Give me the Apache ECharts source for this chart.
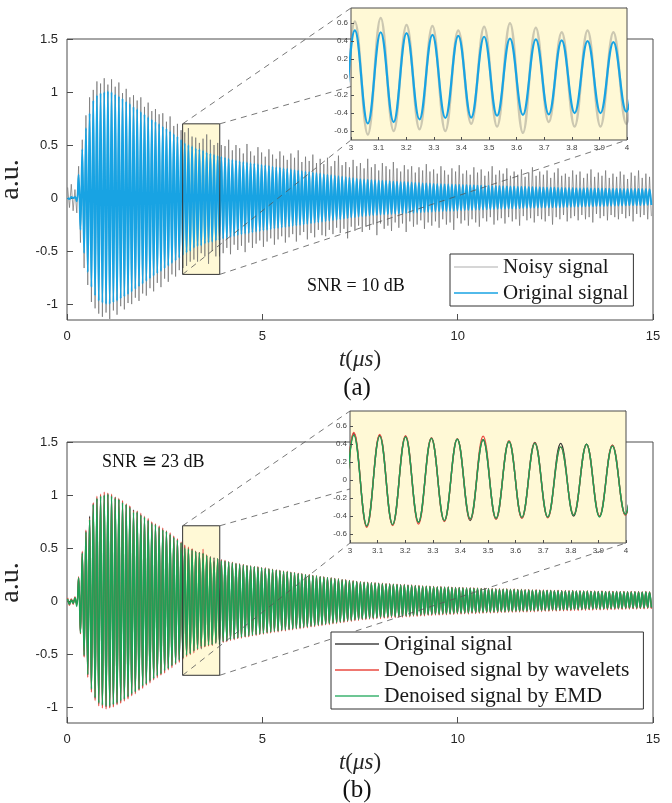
<!DOCTYPE html>
<html><head><meta charset="utf-8">
<script src="https://cdn.jsdelivr.net/npm/echarts@6/dist/echarts.min.js"></script>
<style>html,body{margin:0;padding:0;background:#fff}#c{width:672px;height:803px}</style>
</head><body><div id="c"></div>
<script>
// ---- sampling grid of the read-off extrema (μs) ----
const SAMPLE_START = 0.0162;   // time of first positive extremum
const HALF_PERIOD = 0.04684;   // time between successive extrema

// ---- original signal: positive peaks / negative troughs ----
const ORIG_PEAKS = [
0.00,0.01,0.01,0.22,0.46,0.66,0.80,0.92,0.97,0.99,
1.00,1.01,1.00,0.98,0.96,0.94,0.91,0.89,0.86,0.84,
0.815,0.79,0.765,0.74,0.72,0.70,0.675,0.655,0.63,0.605,
0.58,0.55,0.52,0.50,0.49,0.47,0.46,0.45,0.43,0.42,
0.41,0.40,0.39,0.38,0.37,0.362,0.355,0.348,0.341,0.335,
0.33,0.324,0.32,0.314,0.31,0.303,0.297,0.292,0.286,0.281,
0.276,0.271,0.266,0.26,0.256,0.25,0.246,0.241,0.236,0.231,
0.226,0.221,0.216,0.211,0.206,0.201,0.197,0.192,0.188,0.183,
0.179,0.176,0.173,0.171,0.168,0.166,0.164,0.161,0.159,0.157,
0.155,0.153,0.151,0.149,0.147,0.145,0.143,0.141,0.139,0.138,
0.136,0.134,0.133,0.131,0.13,0.128,0.127,0.126,0.124,0.123,
0.122,0.121,0.12,0.118,0.117,0.116,0.115,0.114,0.113,0.112,
0.111,0.11,0.109,0.108,0.107,0.106,0.105,0.104,0.103,0.102,
0.101,0.1,0.099,0.099,0.098,0.097,0.096,0.095,0.095,0.094,
0.093,0.093,0.092,0.091,0.091,0.09,0.09,0.089,0.089,0.088,
0.088,0.087,0.087,0.086,0.086,0.086,0.085,0.085,0.085,0.084];
const ORIG_TROUGHS = [
-0.01,0.00,-0.03,-0.30,-0.52,-0.70,-0.84,-0.92,-0.97,-0.99,
-1.00,-1.00,-0.985,-0.97,-0.95,-0.93,-0.91,-0.885,-0.86,-0.835,
-0.81,-0.785,-0.76,-0.735,-0.71,-0.69,-0.665,-0.64,-0.615,-0.59,
-0.565,-0.54,-0.515,-0.50,-0.47,-0.455,-0.45,-0.43,-0.42,-0.415,
-0.40,-0.40,-0.385,-0.376,-0.367,-0.358,-0.35,-0.343,-0.336,-0.33,
-0.324,-0.318,-0.312,-0.306,-0.30,-0.294,-0.289,-0.284,-0.279,-0.274,
-0.269,-0.264,-0.259,-0.254,-0.249,-0.244,-0.239,-0.234,-0.229,-0.224,
-0.219,-0.214,-0.209,-0.204,-0.199,-0.194,-0.189,-0.184,-0.179,-0.175,
-0.171,-0.168,-0.165,-0.162,-0.16,-0.157,-0.155,-0.152,-0.15,-0.148,
-0.146,-0.144,-0.142,-0.14,-0.138,-0.136,-0.134,-0.132,-0.13,-0.129,
-0.127,-0.125,-0.124,-0.122,-0.121,-0.119,-0.118,-0.116,-0.115,-0.114,
-0.112,-0.111,-0.11,-0.108,-0.107,-0.106,-0.105,-0.103,-0.102,-0.101,
-0.1,-0.099,-0.098,-0.097,-0.096,-0.095,-0.094,-0.093,-0.092,-0.091,
-0.09,-0.089,-0.088,-0.087,-0.086,-0.085,-0.084,-0.083,-0.082,-0.081,
-0.08,-0.079,-0.078,-0.077,-0.076,-0.076,-0.075,-0.074,-0.073,-0.072,
-0.072,-0.071,-0.07,-0.069,-0.068,-0.068,-0.067,-0.066,-0.065,-0.065];

// ---- noisy signal (SNR = 10 dB) ----
const NOISY_PEAKS = [
0.10,0.13,0.08,0.30,0.55,0.78,0.95,1.02,1.10,1.08,
1.13,1.07,1.12,1.05,1.09,0.99,1.03,0.95,0.97,0.92,
0.95,0.86,0.90,0.82,0.84,0.79,0.80,0.72,0.77,0.68,
0.70,0.64,0.62,0.66,0.58,0.57,0.52,0.56,0.60,0.55,
0.50,0.52,0.50,0.49,0.55,0.45,0.50,0.47,0.42,0.51,
0.44,0.40,0.48,0.43,0.39,0.46,0.41,0.37,0.44,0.40,
0.36,0.42,0.38,0.45,0.34,0.39,0.35,0.41,0.33,0.37,
0.32,0.38,0.30,0.35,0.40,0.31,0.34,0.29,0.36,0.30,
0.33,0.28,0.37,0.29,0.32,0.26,0.33,0.30,0.27,0.34,
0.28,0.25,0.31,0.27,0.30,0.24,0.29,0.26,0.32,0.25,
0.27,0.23,0.30,0.26,0.22,0.28,0.25,0.31,0.23,0.26,
0.22,0.29,0.24,0.27,0.21,0.25,0.30,0.22,0.26,0.23,
0.28,0.21,0.25,0.22,0.27,0.20,0.24,0.29,0.21,0.25,
0.22,0.26,0.19,0.24,0.28,0.21,0.23,0.20,0.26,0.22,
0.25,0.19,0.23,0.27,0.20,0.24,0.21,0.26,0.19,0.23,
0.20,0.25,0.22,0.18,0.24,0.21,0.26,0.19,0.23,0.20];
const NOISY_TROUGHS = [
-0.09,-0.12,-0.14,-0.42,-0.66,-0.82,-0.98,-1.04,-1.09,-1.12,
-1.08,-1.14,-1.06,-1.10,-1.02,-1.05,-0.99,-1.00,-0.94,-0.97,
-0.90,-0.92,-0.85,-0.88,-0.80,-0.84,-0.76,-0.79,-0.72,-0.74,
-0.68,-0.66,-0.64,-0.60,-0.58,-0.60,-0.52,-0.55,-0.62,-0.50,
-0.55,-0.55,-0.52,-0.47,-0.53,-0.44,-0.49,-0.45,-0.51,-0.42,
-0.47,-0.43,-0.40,-0.46,-0.41,-0.38,-0.44,-0.39,-0.36,-0.42,
-0.37,-0.34,-0.41,-0.35,-0.32,-0.39,-0.33,-0.37,-0.30,-0.35,
-0.36,-0.30,-0.34,-0.28,-0.33,-0.29,-0.38,-0.27,-0.31,-0.26,
-0.32,-0.27,-0.30,-0.25,-0.35,-0.24,-0.29,-0.26,-0.31,-0.23,
-0.28,-0.24,-0.32,-0.22,-0.27,-0.25,-0.21,-0.29,-0.23,-0.26,
-0.22,-0.28,-0.20,-0.25,-0.23,-0.30,-0.19,-0.24,-0.21,-0.26,
-0.20,-0.23,-0.27,-0.19,-0.22,-0.18,-0.25,-0.21,-0.19,-0.24,
-0.18,-0.22,-0.20,-0.26,-0.17,-0.21,-0.19,-0.23,-0.17,-0.20,
-0.22,-0.17,-0.25,-0.18,-0.20,-0.16,-0.22,-0.19,-0.17,-0.21,
-0.16,-0.20,-0.18,-0.23,-0.15,-0.19,-0.17,-0.21,-0.16,-0.18,
-0.20,-0.15,-0.19,-0.17,-0.22,-0.15,-0.18,-0.16,-0.20,-0.17];

// ---- denoised by wavelets ----
const WAV_PEAKS = [
0.03,0.02,0.04,0.23,0.47,0.67,0.78,0.93,0.99,1.01,
1.03,1.02,1.01,0.98,0.97,0.95,0.92,0.90,0.85,0.85,
0.83,0.80,0.78,0.75,0.73,0.71,0.69,0.665,0.645,0.615,
0.59,0.56,0.53,0.51,0.495,0.47,0.46,0.49,0.44,0.415,
0.37,0.40,0.39,0.385,0.372,0.368,0.357,0.352,0.346,0.337,
0.335,0.326,0.325,0.316,0.315,0.305,0.302,0.294,0.291,0.283,
0.281,0.273,0.271,0.262,0.261,0.252,0.251,0.243,0.241,0.233,
0.231,0.223,0.221,0.213,0.211,0.203,0.202,0.194,0.193,0.185,
0.184,0.178,0.178,0.173,0.173,0.168,0.169,0.163,0.164,0.159,
0.16,0.155,0.156,0.151,0.152,0.147,0.148,0.143,0.144,0.14,
0.141,0.136,0.138,0.133,0.135,0.13,0.132,0.128,0.129,0.125,
0.127,0.123,0.125,0.12,0.122,0.118,0.12,0.116,0.118,0.114,
0.116,0.112,0.114,0.11,0.112,0.108,0.11,0.106,0.108,0.104,
0.106,0.102,0.104,0.101,0.103,0.099,0.101,0.097,0.1,0.096,
0.098,0.095,0.097,0.093,0.096,0.092,0.095,0.091,0.094,0.09,
0.093,0.089,0.092,0.088,0.091,0.088,0.09,0.087,0.09,0.086];
const WAV_TROUGHS = [
-0.04,-0.03,-0.03,-0.31,-0.53,-0.72,-0.86,-0.94,-0.99,-1.01,
-1.02,-1.01,-1.0,-0.98,-0.965,-0.945,-0.925,-0.895,-0.875,-0.845,
-0.825,-0.795,-0.775,-0.745,-0.725,-0.70,-0.68,-0.65,-0.63,-0.60,
-0.58,-0.55,-0.525,-0.505,-0.49,-0.46,-0.44,-0.435,-0.425,-0.42,
-0.385,-0.40,-0.39,-0.384,-0.372,-0.366,-0.355,-0.351,-0.341,-0.338,
-0.329,-0.326,-0.317,-0.314,-0.305,-0.302,-0.294,-0.292,-0.284,-0.282,
-0.274,-0.272,-0.264,-0.262,-0.254,-0.252,-0.244,-0.242,-0.234,-0.232,
-0.224,-0.222,-0.214,-0.212,-0.204,-0.202,-0.194,-0.192,-0.184,-0.183,
-0.176,-0.176,-0.17,-0.17,-0.165,-0.165,-0.16,-0.16,-0.155,-0.156,
-0.151,-0.152,-0.147,-0.148,-0.143,-0.144,-0.139,-0.14,-0.135,-0.137,
-0.132,-0.133,-0.129,-0.13,-0.126,-0.127,-0.123,-0.124,-0.12,-0.122,
-0.117,-0.119,-0.115,-0.116,-0.112,-0.114,-0.11,-0.111,-0.107,-0.109,
-0.105,-0.107,-0.103,-0.105,-0.101,-0.103,-0.099,-0.101,-0.097,-0.099,
-0.095,-0.097,-0.093,-0.095,-0.091,-0.093,-0.089,-0.091,-0.087,-0.089,
-0.085,-0.087,-0.083,-0.085,-0.081,-0.084,-0.08,-0.082,-0.078,-0.08,
-0.077,-0.079,-0.075,-0.077,-0.073,-0.076,-0.072,-0.074,-0.07,-0.073];

// ---- denoised by EMD ----
const EMD_PEAKS = [
0.02,0.01,0.03,0.22,0.45,0.65,0.77,0.91,0.97,0.99,
1.00,1.01,0.99,0.97,0.96,0.93,0.91,0.88,0.84,0.84,
0.81,0.79,0.76,0.73,0.72,0.69,0.67,0.655,0.625,0.60,
0.575,0.55,0.50,0.49,0.48,0.465,0.455,0.45,0.43,0.41,
0.37,0.40,0.38,0.375,0.368,0.36,0.352,0.346,0.34,0.333,
0.328,0.322,0.318,0.312,0.307,0.301,0.296,0.29,0.285,0.279,
0.275,0.269,0.265,0.258,0.255,0.248,0.245,0.239,0.235,0.229,
0.225,0.219,0.215,0.209,0.205,0.199,0.196,0.19,0.187,0.181,
0.178,0.174,0.172,0.169,0.167,0.164,0.163,0.159,0.158,0.155,
0.154,0.151,0.15,0.147,0.146,0.143,0.142,0.139,0.138,0.136,
0.135,0.132,0.132,0.129,0.129,0.126,0.126,0.124,0.123,0.121,
0.121,0.119,0.119,0.116,0.116,0.114,0.114,0.112,0.112,0.11,
0.11,0.108,0.108,0.106,0.106,0.104,0.104,0.102,0.102,0.1,
0.1,0.098,0.098,0.097,0.097,0.095,0.095,0.093,0.094,0.092,
0.092,0.091,0.091,0.089,0.09,0.088,0.089,0.087,0.088,0.086,
0.087,0.085,0.086,0.084,0.085,0.084,0.084,0.083,0.084,0.082];
const EMD_TROUGHS = [
-0.03,-0.02,-0.05,-0.30,-0.51,-0.69,-0.83,-0.91,-0.96,-0.98,
-0.99,-0.99,-0.975,-0.96,-0.94,-0.925,-0.90,-0.875,-0.855,-0.83,
-0.80,-0.78,-0.75,-0.73,-0.70,-0.685,-0.655,-0.635,-0.605,-0.585,
-0.555,-0.535,-0.51,-0.495,-0.47,-0.45,-0.43,-0.425,-0.415,-0.41,
-0.39,-0.41,-0.38,-0.371,-0.362,-0.354,-0.345,-0.339,-0.331,-0.326,
-0.319,-0.314,-0.307,-0.302,-0.295,-0.29,-0.284,-0.28,-0.274,-0.27,
-0.264,-0.26,-0.254,-0.25,-0.244,-0.24,-0.234,-0.23,-0.224,-0.22,
-0.214,-0.21,-0.204,-0.2,-0.194,-0.19,-0.184,-0.18,-0.174,-0.171,
-0.166,-0.164,-0.16,-0.158,-0.155,-0.153,-0.15,-0.148,-0.145,-0.144,
-0.141,-0.14,-0.137,-0.136,-0.133,-0.132,-0.129,-0.128,-0.125,-0.125,
-0.122,-0.121,-0.119,-0.118,-0.116,-0.115,-0.113,-0.112,-0.11,-0.11,
-0.107,-0.107,-0.105,-0.104,-0.102,-0.102,-0.1,-0.099,-0.097,-0.097,
-0.095,-0.095,-0.093,-0.093,-0.091,-0.091,-0.089,-0.089,-0.087,-0.087,
-0.085,-0.085,-0.083,-0.083,-0.081,-0.081,-0.079,-0.079,-0.077,-0.077,
-0.075,-0.075,-0.073,-0.073,-0.071,-0.072,-0.07,-0.07,-0.068,-0.068,
-0.067,-0.067,-0.065,-0.065,-0.063,-0.064,-0.062,-0.062,-0.06,-0.061];

// ---- axes / zoom boxes ----
const MAIN_X_RANGE = [0, 15];
const MAIN_Y_RANGE = [-1.15, 1.5];
const MAIN_Y_TICKS = [-1, -0.5, 0, 0.5, 1, 1.5];
const INSET_X_RANGE = [3, 4];
const INSET_Y_RANGE = [-0.7, 0.77];
const INSET_X_TICKS = [3, 3.1, 3.2, 3.3, 3.4, 3.5, 3.6, 3.7, 3.8, 3.9, 4];
const INSET_Y_TICKS = [-0.6, -0.4, -0.2, 0, 0.2, 0.4, 0.6];
const BOX_A = [2.96, 3.91, -0.72, 0.70];   // t0, t1, ymin, ymax
const BOX_B = [2.96, 3.91, -0.70, 0.71];

const SERIES_NAMES = ['Noisy signal', 'Original signal', 'Denoised signal by wavelets', 'Denoised signal by EMD'];

// build [t, value] pairs from alternating peak / trough lists
function toPoints(peaks, troughs) {
  const out = [];
  for (let k = 0; k < peaks.length; k++) {
    out.push([SAMPLE_START + (2 * k) * HALF_PERIOD, peaks[k]]);
    out.push([SAMPLE_START + (2 * k + 1) * HALF_PERIOD, troughs[k]]);
  }
  return out;
}
const ORIG = toPoints(ORIG_PEAKS, ORIG_TROUGHS);
const NOISY = toPoints(NOISY_PEAKS, NOISY_TROUGHS);
const WAV = toPoints(WAV_PEAKS, WAV_TROUGHS);
const EMD = toPoints(EMD_PEAKS, EMD_TROUGHS);

const SANS = 'Liberation Sans, Arial, Helvetica, sans-serif';
const SERIF = 'Liberation Serif, Times New Roman, serif';
const AX = '#4d4d4d';
const BG = '#FFF9D6';
const BLUE = '#18a3e3';
const RED = '#ea4a40';
const GREEN = '#1fa055';
const BLACK = '#333333';

const chart = echarts.init(document.getElementById('c'));

function mainX(gi) {
  return {gridIndex: gi, type: 'value', min: MAIN_X_RANGE[0], max: MAIN_X_RANGE[1], interval: 5,
    axisLine: {show: false, onZero: false}, splitLine: {show: false},
    axisTick: {inside: true, length: 6, lineStyle: {color: AX}},
    axisLabel: {margin: 10, fontSize: 13, color: '#262626', fontFamily: SANS},
    name: '{i|t}({i|\u03bcs})', nameLocation: 'middle', nameGap: 28,
    nameTextStyle: {fontFamily: SERIF, fontSize: 23, color: '#262626',
      rich: {i: {fontStyle: 'italic', fontFamily: SERIF, fontSize: 23, color: '#262626'}}}};
}
function mainY(gi) {
  return {gridIndex: gi, type: 'value', min: MAIN_Y_RANGE[0], max: MAIN_Y_RANGE[1],
    axisLine: {show: false, onZero: false}, splitLine: {show: false},
    axisTick: {inside: true, length: 6, lineStyle: {color: AX}, customValues: MAIN_Y_TICKS},
    axisLabel: {margin: 9, fontSize: 13, color: '#262626', fontFamily: SANS, customValues: MAIN_Y_TICKS},
    name: 'a.u.', nameLocation: 'middle', nameGap: 33,
    nameTextStyle: {fontFamily: SERIF, fontSize: 28, color: '#262626'}};
}
function insetX(gi) {
  return {gridIndex: gi, type: 'value', min: INSET_X_RANGE[0], max: INSET_X_RANGE[1], z: 14,
    axisLine: {show: false, onZero: false}, splitLine: {show: false},
    axisTick: {inside: true, length: 3, lineStyle: {color: AX}, customValues: INSET_X_TICKS},
    axisLabel: {margin: 4, fontSize: 8, color: '#404040', fontFamily: SANS, customValues: INSET_X_TICKS}};
}
function insetY(gi) {
  return {gridIndex: gi, type: 'value', min: INSET_Y_RANGE[0], max: INSET_Y_RANGE[1], z: 14,
    axisLine: {show: false, onZero: false}, splitLine: {show: false},
    axisTick: {inside: true, length: 3, lineStyle: {color: AX}, customValues: INSET_Y_TICKS},
    axisLabel: {margin: 3, fontSize: 8, color: '#404040', fontFamily: SANS, customValues: INSET_Y_TICKS}};
}
function lineS(name, data, ai, color, width, z, extra) {
  return Object.assign({type: 'line', name: name, data: data, xAxisIndex: ai, yAxisIndex: ai,
    symbol: 'none', smooth: 0.4, z: z, silent: true, animation: false,
    lineStyle: {color: color, width: width}, itemStyle: {color: color}}, extra || {});
}
function boxS(ai, box, fill, z) {
  return {type: 'custom', xAxisIndex: ai, yAxisIndex: ai, z: z, silent: true, clip: false,
    data: [box], encode: {x: [0, 1], y: [2, 3]},
    renderItem: function (params, api) {
      const p1 = api.coord([api.value(0), api.value(3)]);
      const p2 = api.coord([api.value(1), api.value(2)]);
      return {type: 'rect', shape: {x: p1[0], y: p1[1], width: p2[0] - p1[0], height: p2[1] - p1[1]},
        style: fill ? {fill: BG, stroke: null} : {fill: null, stroke: '#333', lineWidth: 1}};
    }};
}
const gridBase = {show: true, borderColor: AX, borderWidth: 1, containLabel: false, outerBoundsMode: 'none'};

const option = {
  animation: false,
  backgroundColor: '#fff',
  grid: [
    Object.assign({left: 67, top: 39, width: 586, height: 281, backgroundColor: 'transparent', z: 0}, gridBase),
    Object.assign({left: 351, top: 8, width: 276, height: 132, backgroundColor: BG, z: 10}, gridBase),
    Object.assign({left: 67, top: 442, width: 586, height: 281, backgroundColor: 'transparent', z: 0}, gridBase),
    Object.assign({left: 350, top: 411, width: 276, height: 132, backgroundColor: BG, z: 10}, gridBase)
  ],
  xAxis: [mainX(0), insetX(1), mainX(2), insetX(3)],
  yAxis: [mainY(0), insetY(1), mainY(2), insetY(3)],
  legend: [
    {orient: 'vertical', left: 450, top: 254, padding: [2, 5, 2, 4], itemGap: 4, itemWidth: 44, itemHeight: 1.5,
     icon: 'rect', selectedMode: false, backgroundColor: '#fff', borderColor: '#333', borderWidth: 1, z: 8,
     textStyle: {fontFamily: SERIF, fontSize: 21, color: '#1a1a1a', lineHeight: 22},
     data: [{name: SERIES_NAMES[0], itemStyle: {color: '#c8c8c8'}}, {name: SERIES_NAMES[1], itemStyle: {color: BLUE}}]},
    {orient: 'vertical', left: 331, top: 632, padding: [1, 14, 2, 4], itemGap: 4, itemWidth: 44, itemHeight: 1.5,
     icon: 'rect', selectedMode: false, backgroundColor: '#fff', borderColor: '#333', borderWidth: 1, z: 8,
     textStyle: {fontFamily: SERIF, fontSize: 21.5, color: '#1a1a1a', lineHeight: 22},
     data: [{name: SERIES_NAMES[1], itemStyle: {color: '#444'}}, {name: SERIES_NAMES[2], itemStyle: {color: RED}},
            {name: SERIES_NAMES[3], itemStyle: {color: '#3cb371'}}]}
  ],
  series: [
    boxS(0, BOX_A, true, 1),
    lineS(SERIES_NAMES[0], NOISY, 0, 'rgba(110,110,110,0.75)', 0.9, 2, {smooth: false}),
    lineS(SERIES_NAMES[1], ORIG, 0, BLUE, 1.9, 3),
    boxS(0, BOX_A, false, 5),
    lineS(SERIES_NAMES[0], NOISY, 1, 'rgba(110,110,110,0.35)', 2.5, 11),
    lineS(SERIES_NAMES[1], ORIG, 1, BLUE, 2.2, 12),

    boxS(2, BOX_B, true, 1),
    lineS(SERIES_NAMES[1], ORIG, 2, BLACK, 1.3, 2),
    lineS(SERIES_NAMES[2], WAV, 2, RED, 1.3, 3),
    lineS(SERIES_NAMES[3], EMD, 2, GREEN, 1.6, 4),
    boxS(2, BOX_B, false, 5),
    lineS(SERIES_NAMES[1], ORIG, 3, BLACK, 1.4, 11),
    lineS(SERIES_NAMES[2], WAV, 3, RED, 1.4, 12),
    lineS(SERIES_NAMES[3], EMD, 3, GREEN, 1.4, 13)
  ]
};
chart.setOption(option);

// connector lines from zoom box corners to inset corners + free texts
function connectors(mainGi, insetGi, box) {
  const P = (gi, x, y) => chart.convertToPixel({gridIndex: gi}, [x, y]);
  const pairs = [
    [P(mainGi, box[0], box[3]), P(insetGi, INSET_X_RANGE[0], INSET_Y_RANGE[1])],
    [P(mainGi, box[1], box[3]), P(insetGi, INSET_X_RANGE[1], INSET_Y_RANGE[1])],
    [P(mainGi, box[0], box[2]), P(insetGi, INSET_X_RANGE[0], INSET_Y_RANGE[0])],
    [P(mainGi, box[1], box[2]), P(insetGi, INSET_X_RANGE[1], INSET_Y_RANGE[0])]
  ];
  return pairs.map(p => ({type: 'line', z: 6, silent: true,
    shape: {x1: p[0][0], y1: p[0][1], x2: p[1][0], y2: p[1][1]},
    style: {stroke: '#555', lineWidth: 0.8, lineDash: [6, 5]}}));
}
const txt = (s, x, y, size, align) => ({type: 'text', z: 9, silent: true, x: x, y: y,
  style: {text: s, fontFamily: SERIF, fontSize: size, fill: '#111', align: align || 'left', verticalAlign: 'middle'}});

chart.setOption({graphic: {elements: [].concat(
  connectors(0, 1, BOX_A), connectors(2, 3, BOX_B),
  [txt('SNR = 10 dB', 307, 286, 18), txt('SNR \u2245 23 dB', 102, 462, 18),
   txt('(a)', 357, 388, 25, 'center'), txt('(b)', 357, 790, 25, 'center')]
)}});
</script>
</body></html>
